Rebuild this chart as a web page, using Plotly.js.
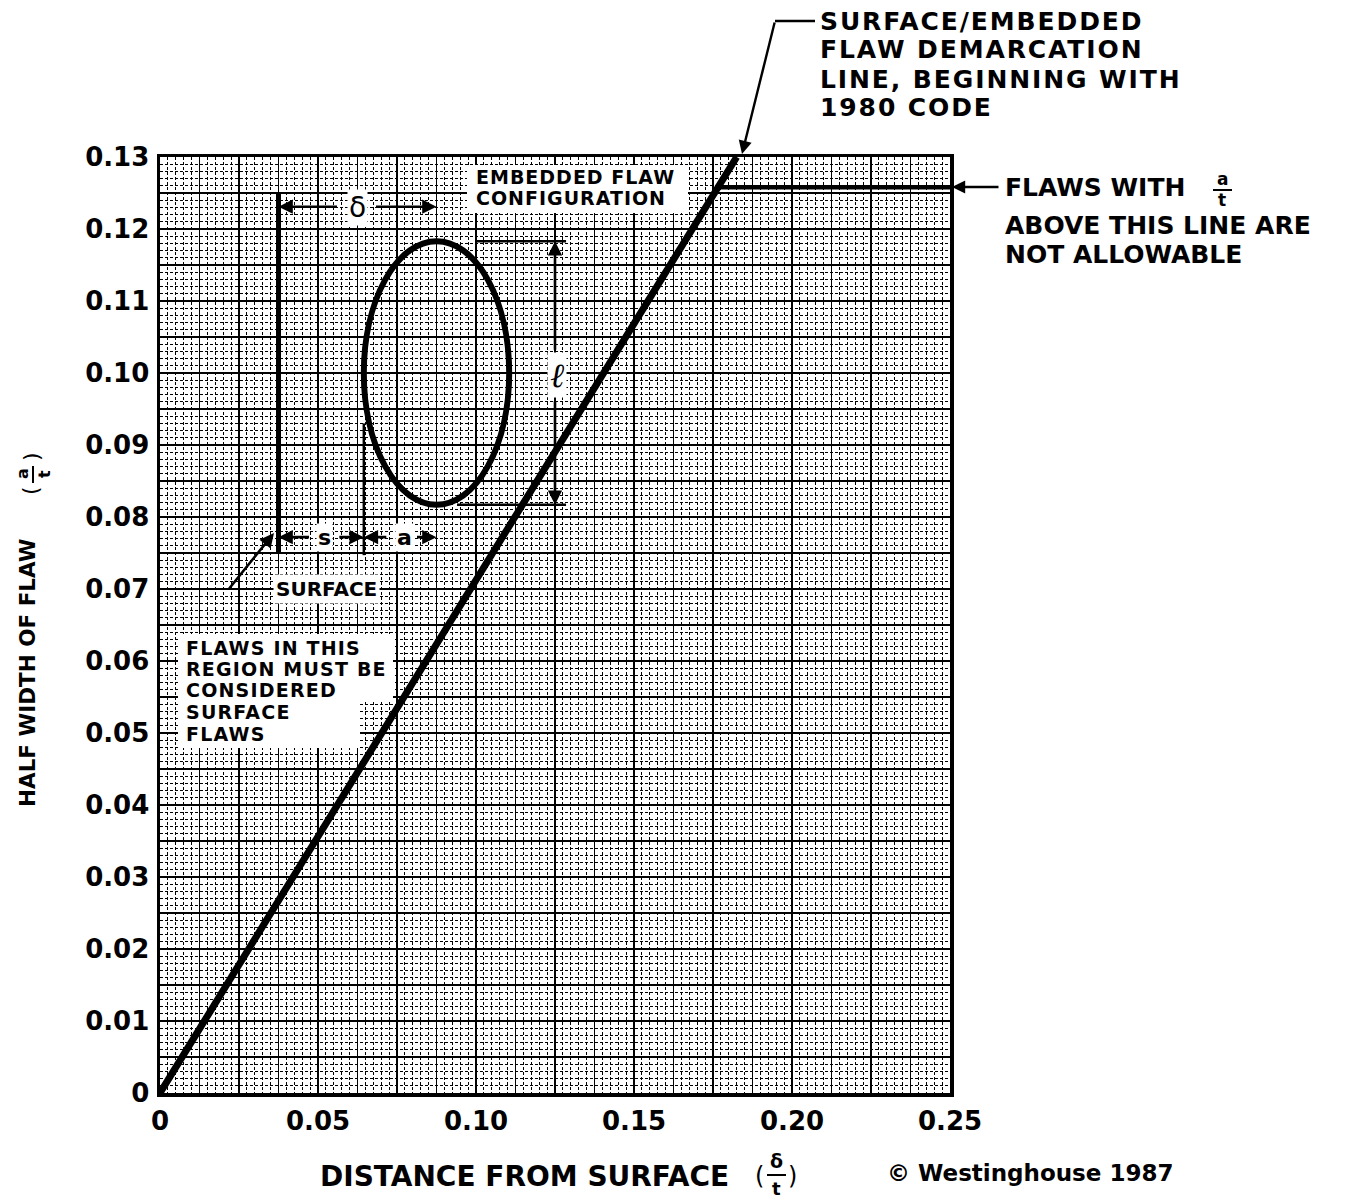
<!DOCTYPE html>
<html><head><meta charset="utf-8">
<script src="https://cdn.plot.ly/plotly-3.0.1.min.js"></script>
<style>html,body{margin:0;padding:0;background:#fff}</style>
</head><body><div id="chart" style="width:1351px;height:1202px"></div>
<script>
// ---------- data ----------
const xTickVals = [0, 0.05, 0.10, 0.15, 0.20, 0.25];
const xTickText = ['0', '0.05', '0.10', '0.15', '0.20', '0.25'];
const yTickVals = [0, 0.01, 0.02, 0.03, 0.04, 0.05, 0.06, 0.07, 0.08, 0.09, 0.10, 0.11, 0.12, 0.13];
const yTickText = ['0', '0.01', '0.02', '0.03', '0.04', '0.05', '0.06', '0.07', '0.08', '0.09', '0.10', '0.11', '0.12', '0.13'];
const xRange = [0, 0.25];
const yRange = [0, 0.13];
const xMajorStep = 0.0125, xMinorStep = 0.0025;
const yMajorStep = 0.005, yMinorStep = 0.001;

// surface / embedded demarcation line (a/t vs delta/t)
const demarcX = [0, 0.1825];
const demarcY = [0, 0.13];
// allowable limit line
const limitX = [0.1761, 0.25];
const limitY = [0.1258, 0.1258];
// embedded flaw sketch
const surfaceLineX = [0.0375, 0.0375];
const surfaceLineY = [0.075, 0.1251];
const ellipseX = [0.0645, 0.1105];
const ellipseY = [0.0817, 0.1183];
const ellipseCenterX = 0.0875;
const sExtX = [0.0645, 0.0645];
const sExtY = [0.0747, 0.093];
const lTopX = [0.0997, 0.1285];
const lTopY = [0.1183, 0.1183];
const lBotX = [0.094, 0.1285];
const lBotY = [0.0817, 0.0817];
const lDimX = 0.125;
const deltaArrowY = 0.1231;
const saArrowY = 0.0772;

// ---------- helpers ----------
const PL = 160, PT = 157, PW = 790, PH = 936;
const FONT = 'DejaVu Sans, Liberation Sans, Arial, sans-serif';
const px = p => (p - PL) / PW;          // pixel -> paper x
const py = p => (PT + PH - p) / PH;     // pixel -> paper y
const dx = p => (p - PL) / PW * xRange[1];
const dy = p => (PT + PH - p) / PH * yRange[1];

function gridVals(step, max) {
  const v = []; const n = Math.round(max / step);
  for (let k = 0; k <= n; k++) v.push(+(k * step).toFixed(4));
  return v;
}
function gridText(vals, tv, tt) {
  const m = {}; tv.forEach((v, i) => m[v.toFixed(4)] = tt[i]);
  return vals.map(v => m[v.toFixed(4)] !== undefined ? m[v.toFixed(4)] : '');
}
const xg = gridVals(xMajorStep, xRange[1]);
const yg = gridVals(yMajorStep, yRange[1]);

const annotations = [];
const spacing = {};
function txt(text, x, y, size, o, ls) {
  o = o || {};
  const a = Object.assign({
    text: text, xref: 'paper', yref: 'paper', x: px(x), y: py(y),
    xanchor: 'left', yanchor: 'middle', align: 'left', showarrow: false,
    font: {family: FONT, size: size, color: '#000', weight: 'bold'}
  }, o);
  if (a.xanchor === 'center') a.align = 'center';
  if (ls) spacing[annotations.length] = ls;
  annotations.push(a);
}
function arrowData(x, y, ax, ay) {
  annotations.push({text: '', xref: 'x', yref: 'y', x: x, y: y, ax: ax, ay: ay,
    showarrow: true, arrowhead: 2, arrowsize: 1.1, arrowwidth: 2.6, arrowcolor: '#000'});
}
function arrowPaper(x, y, ax, ay) {
  annotations.push({text: '', xref: 'paper', yref: 'paper', x: px(x), y: py(y), ax: ax, ay: ay,
    showarrow: true, arrowhead: 2, arrowsize: 1.1, arrowwidth: 2.4, arrowcolor: '#000'});
}
const line = (x, y, w) => ({type: 'scatter', mode: 'lines', x: x, y: y,
  line: {color: '#000', width: w}, hoverinfo: 'skip', showlegend: false});

const traces = [
  line(demarcX, demarcY, 7),
  line(limitX, limitY, 4.5),
  line(surfaceLineX, surfaceLineY, 5),
  line(sExtX, sExtY, 2.5),
  line(lTopX, lTopY, 2.5),
  line(lBotX, lBotY, 2.5)
];

// top note
txt('SURFACE/EMBEDDED', 818, 21, 25, null, 1.9);
txt('FLAW DEMARCATION', 818, 50, 25, null, 1.9);
txt('LINE, BEGINNING WITH', 818, 79, 25, null, 1.9);
txt('1980 CODE', 818, 108, 25, null, 1.9);
arrowPaper(742, 154, 33, -133);
// right note
txt('FLAWS WITH', 1003, 187, 25);
txt('ABOVE THIS LINE ARE', 1003, 226, 25);
txt('NOT ALLOWABLE', 1003, 255, 25);
txt('a', 1222, 179, 17, {xanchor: 'center'});
txt('t', 1222, 200, 17, {xanchor: 'center'});
arrowPaper(952, 187, 48, 0);
// embedded flaw label
txt('EMBEDDED FLAW', 474, 177, 19, null, 1);
txt('CONFIGURATION', 474, 198, 19, null, 1);
// surface region label
txt('FLAWS IN THIS', 184, 648, 19, null, 1.2);
txt('REGION MUST BE', 184, 669, 19, null, 1.2);
txt('CONSIDERED', 184, 690, 19, null, 1.2);
txt('SURFACE', 184, 712, 19, null, 1.2);
txt('FLAWS', 184, 734, 19, null, 1.2);
txt('SURFACE', 326, 589, 20, {xanchor: 'center', bgcolor: '#fff', borderpad: 2});
arrowData(dx(274), dy(533), -46, 57);
// dimension labels
txt('δ', 357, 207, 28, {xanchor: 'center', bgcolor: '#fff', borderpad: 1, font: {family: FONT, size: 28, color: '#000'}});
arrowData(surfaceLineX[0], deltaArrowY, 60, 0);
arrowData(ellipseCenterX, deltaArrowY, -62, 0);
txt('ℓ', 557, 375, 34, {xanchor: 'center', bgcolor: '#fff', borderpad: 2, font: {family: 'DejaVu Serif, serif', size: 34, color: '#000', style: 'italic'}});
arrowData(lDimX, lTopY[0], 0, 110);
arrowData(lDimX, lBotY[0], 0, -105);
txt('s', 324, 537, 22, {xanchor: 'center', bgcolor: '#fff', borderpad: 1});
txt('a', 404, 537, 22, {xanchor: 'center', bgcolor: '#fff', borderpad: 1});
arrowData(surfaceLineX[0], saArrowY, 32, 0);
arrowData(sExtX[0], saArrowY, -26, 0);
arrowData(sExtX[0], saArrowY, 24, 0);
arrowData(ellipseCenterX, saArrowY, -21, 0);
// axis titles
txt('DISTANCE FROM SURFACE', 318, 1176, 28);
txt('(', 759, 1176, 24, {xanchor: 'center', font: {family: FONT, size: 24, color: '#000'}});
txt('δ', 776, 1161, 19, {xanchor: 'center'});
txt('t', 776, 1188, 18, {xanchor: 'center'});
txt(')', 792, 1176, 24, {xanchor: 'center', font: {family: FONT, size: 24, color: '#000'}});
txt('HALF WIDTH OF FLAW', 27, 673, 21.5, {xanchor: 'center', textangle: -90});
txt(')', 31, 457, 22, {xanchor: 'center', textangle: -90, font: {family: FONT, size: 22, color: '#000'}});
txt('a', 22, 474, 16, {xanchor: 'center', textangle: -90});
txt('t', 44, 474, 16, {xanchor: 'center', textangle: -90});
txt('(', 31, 491, 22, {xanchor: 'center', textangle: -90, font: {family: FONT, size: 22, color: '#000'}});
// copyright
txt('© Westinghouse 1987', 885, 1173, 23);

const shapes = [
  {type: 'circle', xref: 'x', yref: 'y', x0: ellipseX[0], x1: ellipseX[1], y0: ellipseY[0], y1: ellipseY[1],
   line: {color: '#000', width: 6}, layer: 'above'},
  // white label backgrounds
  {type: 'rect', xref: 'paper', yref: 'paper', x0: px(467), x1: px(688), y0: py(213), y1: py(165),
   fillcolor: '#fff', line: {width: 0}, layer: 'above'},
  {type: 'rect', xref: 'paper', yref: 'paper', x0: px(178), x1: px(393), y0: py(700), y1: py(634),
   fillcolor: '#fff', line: {width: 0}, layer: 'above'},
  {type: 'rect', xref: 'paper', yref: 'paper', x0: px(178), x1: px(360), y0: py(748), y1: py(699),
   fillcolor: '#fff', line: {width: 0}, layer: 'above'},
  // leader segment
  {type: 'line', xref: 'paper', yref: 'paper', x0: px(775), x1: px(815), y0: py(21), y1: py(21), line: {color: '#000', width: 2.4}},
  // fraction bars
  {type: 'line', xref: 'paper', yref: 'paper', x0: px(1213), x1: px(1232), y0: py(190), y1: py(190), line: {color: '#000', width: 2}},
  {type: 'line', xref: 'paper', yref: 'paper', x0: px(767), x1: px(786), y0: py(1175), y1: py(1175), line: {color: '#000', width: 2}},
  {type: 'line', xref: 'paper', yref: 'paper', x0: px(33), x1: px(33), y0: py(466), y1: py(483), line: {color: '#000', width: 2}}
];

const axisCommon = {
  tickmode: 'array', showgrid: true, gridcolor: '#000', gridwidth: 1.6, zeroline: false,
  showline: true, mirror: true, linecolor: '#000', linewidth: 3.5, ticks: '',
  tickfont: {family: FONT, size: 26, color: '#000', weight: 'bold'}, automargin: false
};

const layout = {
  width: 1351, height: 1202,
  margin: {l: PL, r: 1351 - PL - PW, t: PT, b: 1202 - PT - PH},
  paper_bgcolor: '#fff', plot_bgcolor: '#fff',
  showlegend: false, hovermode: false,
  xaxis: Object.assign({}, axisCommon, {
    range: xRange, tickvals: xg, ticktext: gridText(xg, xTickVals, xTickText), ticklabelstandoff: 2,
    minor: {tickmode: 'linear', tick0: 0, dtick: xMinorStep, showgrid: true, gridcolor: '#000', gridwidth: 1, griddash: '3px,2px', ticks: ''}
  }),
  yaxis: Object.assign({}, axisCommon, {
    range: yRange, tickvals: yg, ticktext: gridText(yg, yTickVals, yTickText), ticklabelstandoff: 2,
    minor: {tickmode: 'linear', tick0: 0, dtick: yMinorStep, showgrid: true, gridcolor: '#000', gridwidth: 1, griddash: '3px,2px', ticks: ''}
  }),
  annotations: annotations,
  shapes: shapes
};

Plotly.newPlot('chart', traces, layout, {staticPlot: true, displayModeBar: false}).then(gd => {
  gd.querySelectorAll('g.annotation').forEach(g => {
    const i = +g.getAttribute('data-index');
    if (spacing[i]) {
      const t = g.querySelector('text.annotation-text');
      if (t) t.style.letterSpacing = spacing[i] + 'px';
    }
  });
});
</script>
</body></html>
